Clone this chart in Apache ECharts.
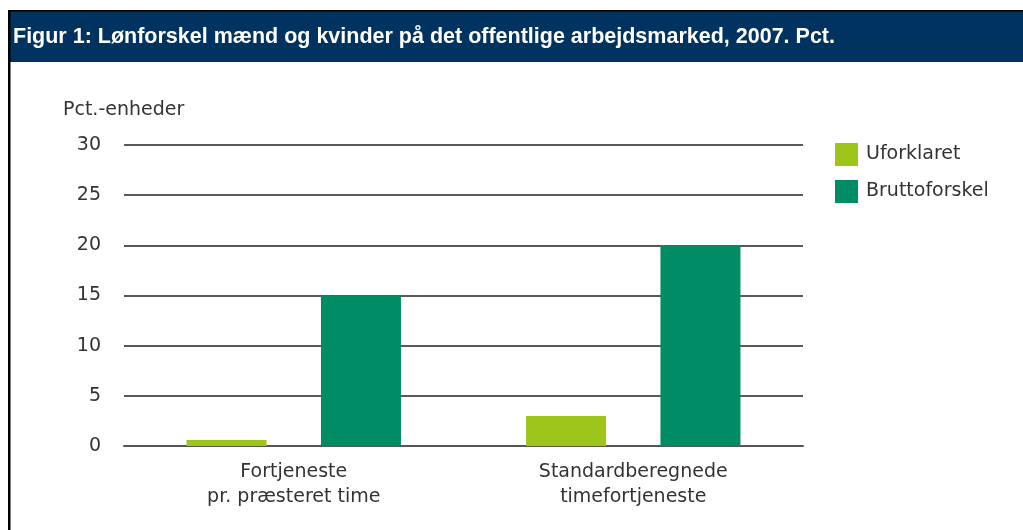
<!DOCTYPE html>
<html>
<head>
<meta charset="utf-8">
<script src="https://cdn.jsdelivr.net/npm/echarts@6/dist/echarts.min.js"></script>
<style>
  html, body { margin: 0; padding: 0; background: #fff; }
  #main { width: 1023px; height: 530px; }
</style>
</head>
<body>
<div id="main"></div>
<script>
var categories = ['Fortjeneste\npr. præsteret time', 'Standardberegnede\ntimefortjeneste'];
var uforklaret = [0.6, 3];
var bruttoforskel = [15, 20];
var yTicks = [0, 5, 10, 15, 20, 25, 30];

var chart = echarts.init(document.getElementById('main'));

var option = {
    animation: false,
    backgroundColor: '#fff',
    textStyle: { fontFamily: 'DejaVu Sans' },
    graphic: [
        // header band + frame
        { type: 'rect', left: 10, top: 11, shape: { width: 1013, height: 51 }, style: { fill: '#00335f' } },
        { type: 'rect', left: 9, top: 10, shape: { width: 1014, height: 1.5 }, style: { fill: '#000' } },
        { type: 'rect', left: 8, top: 10, shape: { width: 2.5, height: 520 }, style: { fill: '#000' } },
        {
            type: 'text', left: 13, top: 26,
            style: {
                text: 'Figur 1: Lønforskel mænd og kvinder på det offentlige arbejdsmarked, 2007. Pct.',
                fill: '#fff', font: 'bold 21.5px "Liberation Sans", Arial'
            }
        },
        {
            type: 'text', left: 63, top: 101,
            style: { text: 'Pct.-enheder', fill: '#333', font: '19px "DejaVu Sans"' }
        }
    ],
    legend: {
        orient: 'vertical',
        left: 830,
        top: 138,
        itemWidth: 23,
        itemHeight: 23,
        itemGap: 14,
        icon: 'rect',
        textStyle: { fontSize: 19, color: '#333', fontFamily: 'DejaVu Sans', padding: [0, 0, 0, 3] },
        data: ['Uforklaret', 'Bruttoforskel']
    },
    grid: { left: 124, right: 220, top: 145, bottom: 84 },
    xAxis: {
        type: 'category',
        data: categories,
        axisTick: { show: false },
        axisLine: { lineStyle: { color: '#555', width: 2 } },
        axisLabel: { fontSize: 19, color: '#333', lineHeight: 25, margin: 14 }
    },
    yAxis: {
        type: 'value',
        min: yTicks[0],
        max: yTicks[yTicks.length - 1],
        interval: 5,
        axisLabel: { fontSize: 19, color: '#333', margin: 23 },
        splitLine: { lineStyle: { color: '#222', width: 1.5 } },
        axisLine: { show: false },
        axisTick: { show: false }
    },
    series: [
        {
            name: 'Uforklaret',
            type: 'bar',
            barWidth: 80,
            barGap: '68%',
            itemStyle: { color: '#9dc51a' },
            data: uforklaret
        },
        {
            name: 'Bruttoforskel',
            type: 'bar',
            barWidth: 80,
            barGap: '68%',
            itemStyle: { color: '#008c64' },
            data: bruttoforskel
        }
    ]
};

chart.setOption(option);
</script>
</body>
</html>
